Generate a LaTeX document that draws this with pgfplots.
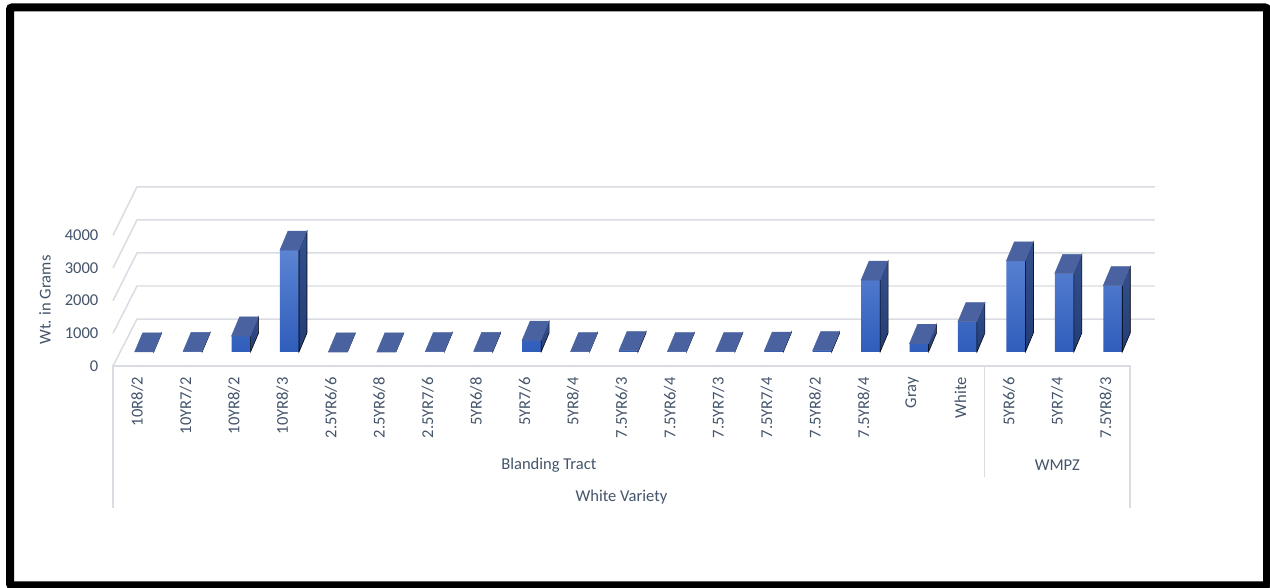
\documentclass[border=0pt]{standalone}
\usepackage{pgfplots}
\pgfplotsset{compat=1.18}
\usepackage{pgfplotstable}
\usepackage{fontspec}
\setmainfont{Carlito}
\definecolor{txt}{HTML}{44546A}
\definecolor{gridc}{HTML}{D9DCE3}
\definecolor{frontT}{HTML}{5B84D4}
\definecolor{frontB}{HTML}{2F5DBA}
\definecolor{sideT}{HTML}{34518F}
\definecolor{sideB}{HTML}{223C75}
\definecolor{topc}{HTML}{4A62A0}

\pgfplotstableread{
idx val
0 5
1 20
2 490
3 3120
4 0
5 0
6 10
7 20
8 360
9 10
10 40
11 10
12 10
13 30
14 40
15 2200
16 260
17 930
18 2790
19 2410
20 2030
}\data

\begin{document}
\begin{tikzpicture}[font=\fontsize{12.4}{15}\selectfont, text=txt]
\useasboundingbox (0,0) rectangle (952.5pt,441pt);
\fill[white] (0,0) rectangle (952.5pt,441pt);
\draw[line width=6pt, rounded corners=1.5pt] (7.5pt,1.875pt) rectangle (950.25pt,435.375pt);
\begin{axis}[
  at={(84.75pt,166.5pt)}, anchor=south west,
  x=36.32pt, y=0.0245pt,
  xmin=-0.5, xmax=20.5, ymin=0, ymax=4000,
  clip=false,
  axis line style={draw=none},
  major tick length=0pt,
  xtick={0,...,20},
  xticklabels={10R8/2,10YR7/2,10YR8/2,10YR8/3,2.5YR6/6,2.5YR6/8,2.5YR7/6,5YR6/8,5YR7/6,5YR8/4,7.5YR6/3,7.5YR6/4,7.5YR7/3,7.5YR7/4,7.5YR8/2,7.5YR8/4,Gray,White,5YR6/6,5YR7/4,7.5YR8/3},
  xticklabel style={rotate=90, anchor=east},
  xticklabel shift=4.9pt,
  ytick={0,1000,2000,3000,4000},
  yticklabel shift=7.5pt,
  scaled y ticks=false,
  /pgf/number format/assume math mode=true,
  /pgf/number format/1000 sep={},
]
% back wall and floor grid
\draw[gridc, line width=1.1pt] (axis cs:-0.5,0) -- (axis cs:-0.0044,1437) -- (axis cs:21.016,1437);
\draw[gridc, line width=1.1pt] (axis cs:-0.5,1000) -- (axis cs:-0.0044,2449) -- (axis cs:21.016,2449);
\draw[gridc, line width=1.1pt] (axis cs:-0.5,2000) -- (axis cs:-0.0044,3461) -- (axis cs:21.016,3461);
\draw[gridc, line width=1.1pt] (axis cs:-0.5,3000) -- (axis cs:-0.0044,4473) -- (axis cs:21.016,4473);
\draw[gridc, line width=1.1pt] (axis cs:-0.5,4000) -- (axis cs:-0.0044,5485) -- (axis cs:21.016,5485);
% category box
\draw[gridc, line width=1.1pt] (axis cs:-0.5,-4343) -- (axis cs:-0.5,0) -- (axis cs:20.5,0) -- (axis cs:20.5,-4343);
\draw[gridc, line width=1.1pt] (axis cs:17.5,0) -- (axis cs:17.5,-3394);
\node at (axis cs:8.5,-3028) {Blanding Tract};
\node at (axis cs:19,-3028) {WMPZ};
\node at (axis cs:10,-4006) {White Variety};
\node[rotate=90] at (axis cs:-1.904,2018) {Wt. in Grams};
% front faces
\addplot[ybar, bar width=14.25pt, bar shift=5.25pt, yshift=10.5pt, draw=none,
  top color=frontT, bottom color=frontB] table[x=idx,y=val]{\data};
% top and side faces
\addplot[only marks, scatter, mark=*, mark size=0pt,
  mark options={draw=none, fill=none},
  visualization depends on={rawy \as \myval},
  scatter/@pre marker code/.code={%
    \pgfmathsetmacro\hh{\myval*0.0245}%
    \pgfmathsetmacro\yf{10.5-\hh}%
    \pgfmathsetmacro\yb{24.75-\hh}%
    \shade[top color=sideT, bottom color=sideB] (12.375pt,10.5pt) -- (18.375pt,24.75pt) -- (18.375pt,\yb pt) -- (12.375pt,\yf pt) -- cycle;
    \fill[topc] (-1.875pt,10.5pt) -- (12.375pt,10.5pt) -- (18.375pt,24.75pt) -- (4.125pt,24.75pt) -- cycle;
  },
  scatter/@post marker code/.code={}
] table[x=idx,y=val]{\data};
\end{axis}
\end{tikzpicture}
\end{document}
